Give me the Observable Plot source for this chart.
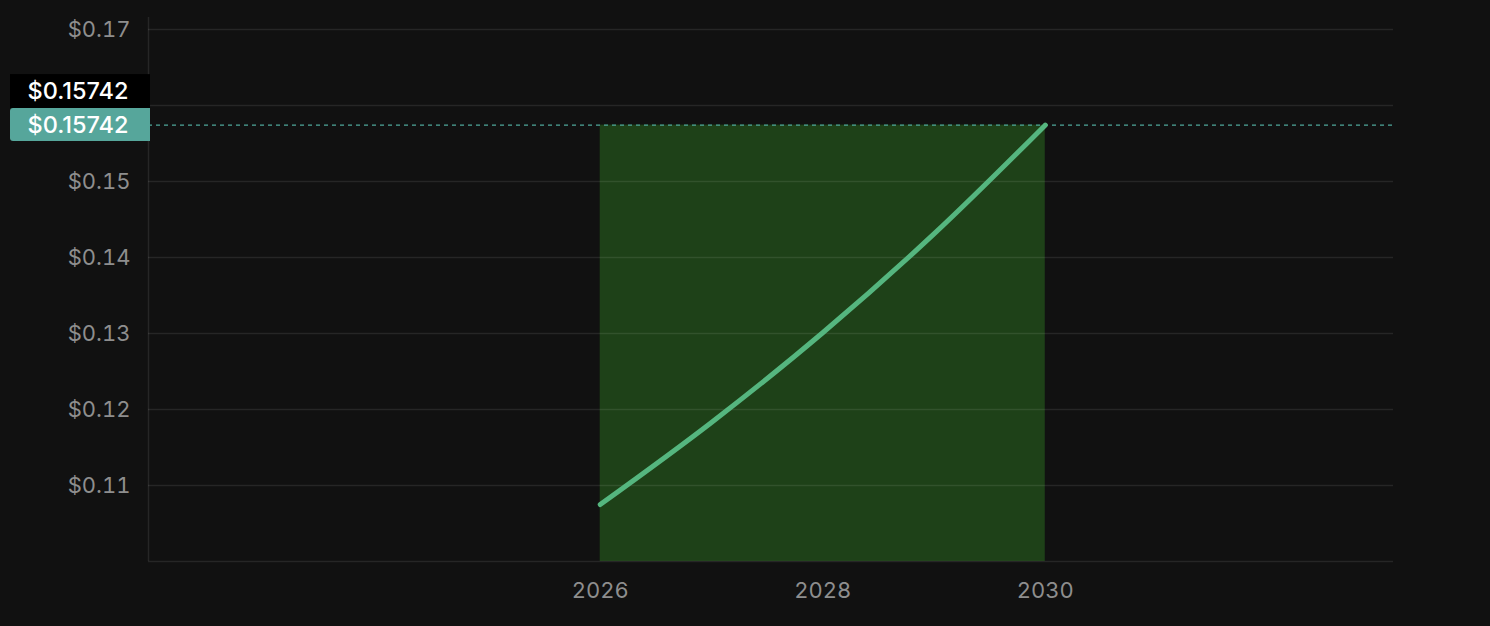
<!DOCTYPE html>
<html>
<head>
<meta charset="utf-8">
<script src="https://cdn.jsdelivr.net/npm/d3@7"></script>
<script src="https://cdn.jsdelivr.net/npm/@observablehq/plot@0.6"></script>
<style>
  html, body { margin: 0; padding: 0; background: #111111; }
  #chart { width: 1490px; height: 626px; }
  svg { display: block; }
</style>
</head>
<body>
<div id="chart"></div>
<script>
const years = [2026, 2027, 2028, 2029, 2030];
const prices = [0.1075, 0.1183, 0.1301, 0.1431, 0.15742];
const gridTicks = [0.11, 0.12, 0.13, 0.14, 0.15, 0.16, 0.17];
const yTickLabels = [0.11, 0.12, 0.13, 0.14, 0.15, 0.17]; // $0.16 sits under the price tags
const xTicks = [2026, 2028, 2030];
const currentPrice = 0.15742;
const rangeStart = 2026, rangeEnd = 2030;
const yMin = 0.10;

const data = years.map((y, i) => ({year: y, price: prices[i]}));
const fmt = d => "$" + d3.format(".2f")(d);
const fmtLabel = d => "$" + d.toFixed(5);
const FONT = "Inter, 'Noto Sans', sans-serif";

const plot = Plot.plot({
  width: 1490,
  height: 626,
  marginLeft: 148,
  marginRight: 97,
  marginTop: 17,
  marginBottom: 65,
  style: {background: "#111111", color: "#8e8e8e", fontFamily: FONT, fontSize: "21px"},
  x: {domain: [2021.94, 2033.13], label: null},
  y: {domain: [yMin, 0.17158], label: null},
  marks: [
    Plot.rect([{x1: rangeStart, x2: rangeEnd, y1: yMin, y2: currentPrice}], {x1: "x1", x2: "x2", y1: "y1", y2: "y2", fill: "#1e4118"}),
    Plot.ruleY(gridTicks, {stroke: "#ffffff", strokeOpacity: 0.09, strokeWidth: 1.5}),
    Plot.ruleY([yMin], {stroke: "#ffffff", strokeOpacity: 0.09, strokeWidth: 1.5}),
    Plot.ruleX([2021.94], {stroke: "#ffffff", strokeOpacity: 0.09, strokeWidth: 1.5}),
    Plot.ruleY([currentPrice], {stroke: "#4fa89b", strokeWidth: 1.2, strokeDasharray: "4,4"}),
    Plot.line(data, {x: "year", y: "price", stroke: "#55b67f", strokeWidth: 5, curve: "monotone-x"}),
    Plot.axisX({ticks: xTicks, tickFormat: d => String(d), tickSize: 0, tickPadding: 21, fontSize: 22, fill: "#8e8e8e"}),
    Plot.axisY({ticks: yTickLabels, tickFormat: fmt, tickSize: 0, tickPadding: 18, fontSize: 22, fill: "#8e8e8e"})
  ]
});

document.getElementById("chart").appendChild(plot);

// price tag labels in left margin positioned via the y scale
const ys = plot.scale("y");
const yc = ys.apply(currentPrice);
const svg = d3.select(plot);
const g = svg.append("g");
const boxH = 33;
// black tag above
const yb = yc - 34;
g.append("rect").attr("x", 10).attr("y", yb - boxH / 2).attr("width", 140).attr("height", boxH + 1).attr("fill", "#000000");
g.append("text").attr("x", 78).attr("y", yb).attr("dy", "0.36em")
  .attr("text-anchor", "middle").attr("fill", "#ffffff")
  .attr("font-family", FONT).attr("font-size", 23.5).attr("font-weight", 500)
  .text(fmtLabel(currentPrice));
// teal tag (current price)
g.append("path")
  .attr("d", (() => {
    const x0 = 10, x1 = 150, y0 = yc - boxH / 2, y1 = yc + boxH / 2, r = 3;
    return `M${x0 + r},${y0} H${x1} V${y1} H${x0 + r} Q${x0},${y1} ${x0},${y1 - r} V${y0 + r} Q${x0},${y0} ${x0 + r},${y0} Z`;
  })())
  .attr("fill", "#56a69b");
g.append("text").attr("x", 78).attr("y", yc).attr("dy", "0.36em")
  .attr("text-anchor", "middle").attr("fill", "#ffffff")
  .attr("font-family", FONT).attr("font-size", 23.5).attr("font-weight", 500)
  .text(fmtLabel(currentPrice));
</script>
</body>
</html>
